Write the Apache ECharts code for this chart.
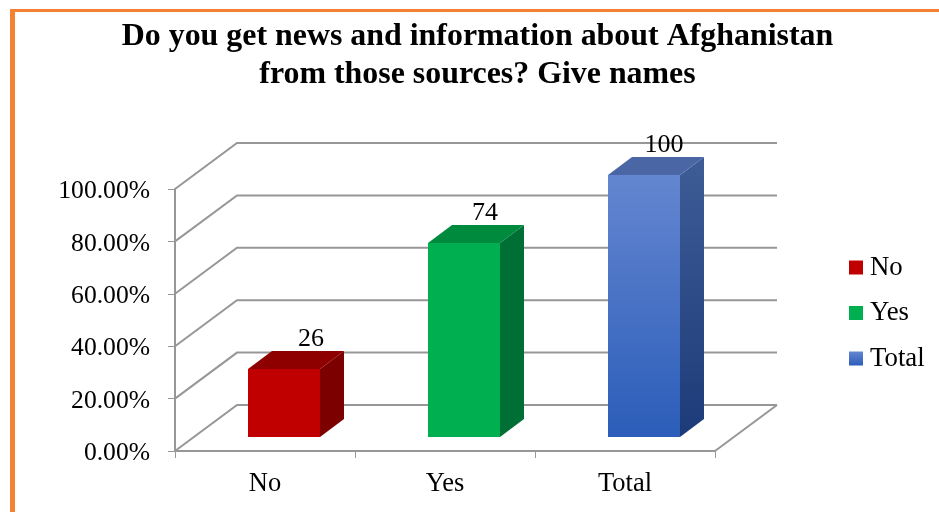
<!DOCTYPE html>
<html>
<head>
<meta charset="utf-8">
<style>html,body{margin:0;padding:0;background:#fff}#c{width:939px;height:512px}</style>
<script src="https://cdn.jsdelivr.net/npm/echarts@6/dist/echarts.min.js"></script>
</head>
<body>
<div id="c"></div>
<script>
const categories = ['No', 'Yes', 'Total'];
const values = [26, 74, 100];
const wallTicks = [0, 20, 40, 60, 80, 100];
const titleText = 'Do you get news and information about Afghanistan\nfrom those sources? Give names';

const FONT = '"Liberation Serif","Times New Roman",serif';
const grad = (a, b) => new echarts.graphic.LinearGradient(0, 0, 0, 1, [{offset: 0, color: a}, {offset: 1, color: b}]);
const palette = [
  {front: '#c00000', side: '#7c0000', top: '#8e0000'},
  {front: '#00b050', side: '#006f35', top: '#008a3e'},
  {front: grad('#6486d0', '#2b5db9'), side: grad('#3e5c96', '#1d3b78'), top: '#4a66a4'}
];
const labelNudge = [7, 1, 0];
const WALL = {x: 62, y: -46};
const FRONT = {x: 19, y: -14};
const DEPTH = {x: 24, y: -18};
const BAR_W = 72;
const GRAY = '#979797';

function wallItem(params, api) {
  const v = api.value(0);
  const cs = params.coordSys;
  const y = api.coord([0, v])[1];
  const x0 = cs.x, x1 = cs.x + cs.width;
  const children = [{
    type: 'polyline',
    shape: {points: [[x0, y], [x0 + WALL.x, y + WALL.y], [x1 + WALL.x, y + WALL.y]]},
    style: {stroke: GRAY, fill: 'none', lineWidth: 2}
  }];
  if (v === 0) {
    children.push({
      type: 'line',
      shape: {x1: x1, y1: y, x2: x1 + WALL.x, y2: y + WALL.y},
      style: {stroke: GRAY, lineWidth: 2}
    });
  }
  return {type: 'group', children};
}

function barItem(idx) {
  return function (params, api) {
    const c = palette[idx];
    const top = api.coord([api.value(0), api.value(1)]);
    const base = api.coord([api.value(0), 0]);
    const xl = top[0] + FRONT.x - BAR_W / 2;
    const xr = xl + BAR_W;
    const yt = top[1] + FRONT.y;
    const yb = base[1] + FRONT.y;
    const poly = (pts, fill) => ({type: 'polygon', shape: {points: pts}, style: {fill}});
    return {
      type: 'group',
      children: [
        poly([[xr, yt], [xr + DEPTH.x, yt + DEPTH.y], [xr + DEPTH.x, yb + DEPTH.y], [xr, yb]], c.side),
        poly([[xl, yt], [xl + DEPTH.x, yt + DEPTH.y], [xr + DEPTH.x, yt + DEPTH.y], [xr, yt]], c.top),
        poly([[xl, yt], [xr, yt], [xr, yb], [xl, yb]], c.front),
        {
          type: 'text',
          z2: 10,
          style: {
            x: (xl + xr) / 2 + 20 + labelNudge[idx],
            y: yt + DEPTH.y - 12,
            text: String(api.value(1)),
            font: '26px ' + FONT,
            fill: '#000',
            align: 'center',
            verticalAlign: 'middle'
          }
        }
      ]
    };
  };
}

const barSeries = categories.map((name, i) => ({
  type: 'custom',
  name,
  silent: true,
  z: 5,
  clip: false,
  itemStyle: {color: palette[i].front},
  renderItem: barItem(i),
  encode: {x: 0, y: 1},
  data: [[i, values[i]]]
}));

const chart = echarts.init(document.getElementById('c'), null, {renderer: 'canvas'});
chart.setOption({
  animation: false,
  backgroundColor: '#fff',
  title: {
    text: titleText,
    left: 472.5,
    top: 13,
    textAlign: 'center',
    textStyle: {fontFamily: FONT, fontSize: 31.9, fontWeight: 'bold', color: '#000', lineHeight: 38}
  },
  legend: {
    orient: 'vertical',
    left: 849,
    top: 254,
    padding: 0,
    itemWidth: 14,
    itemHeight: 14,
    itemGap: 18.5,
    icon: 'rect',
    data: categories,
    selectedMode: false,
    textStyle: {fontFamily: FONT, fontSize: 26.8, color: '#000', padding: [5, 0, 0, 2]}
  },
  grid: {left: 175, top: 189, width: 540, height: 262, containLabel: false},
  xAxis: {
    type: 'category',
    data: categories,
    axisLine: {lineStyle: {color: GRAY, width: 2}},
    axisTick: {show: true, length: 7, alignWithLabel: false, lineStyle: {color: GRAY, width: 1}},
    axisLabel: {fontFamily: FONT, fontSize: 26.5, color: '#000', margin: 20}
  },
  yAxis: {
    type: 'value',
    min: 0,
    max: 100,
    interval: 20,
    axisLine: {show: true, lineStyle: {color: GRAY, width: 2}},
    axisTick: {show: true, length: 7, lineStyle: {color: GRAY, width: 1}},
    splitLine: {show: false},
    axisLabel: {
      fontFamily: FONT, fontSize: 25.6, color: '#000', margin: 25,
      verticalAlign: 'top', lineHeight: 5,
      formatter: v => v.toFixed(2) + '%'
    }
  },
  graphic: [
    {type: 'rect', shape: {x: 10, y: 9, width: 929, height: 3}, style: {fill: '#f58233'}},
    {type: 'rect', shape: {x: 10, y: 9, width: 5, height: 503}, style: {fill: '#f58233'}}
  ],
  series: [{
    type: 'custom',
    name: 'walls',
    silent: true,
    z: 1,
    clip: false,
    renderItem: wallItem,
    encode: {y: 0},
    data: wallTicks.map(v => [v])
  }].concat(barSeries)
});
</script>
</body>
</html>
